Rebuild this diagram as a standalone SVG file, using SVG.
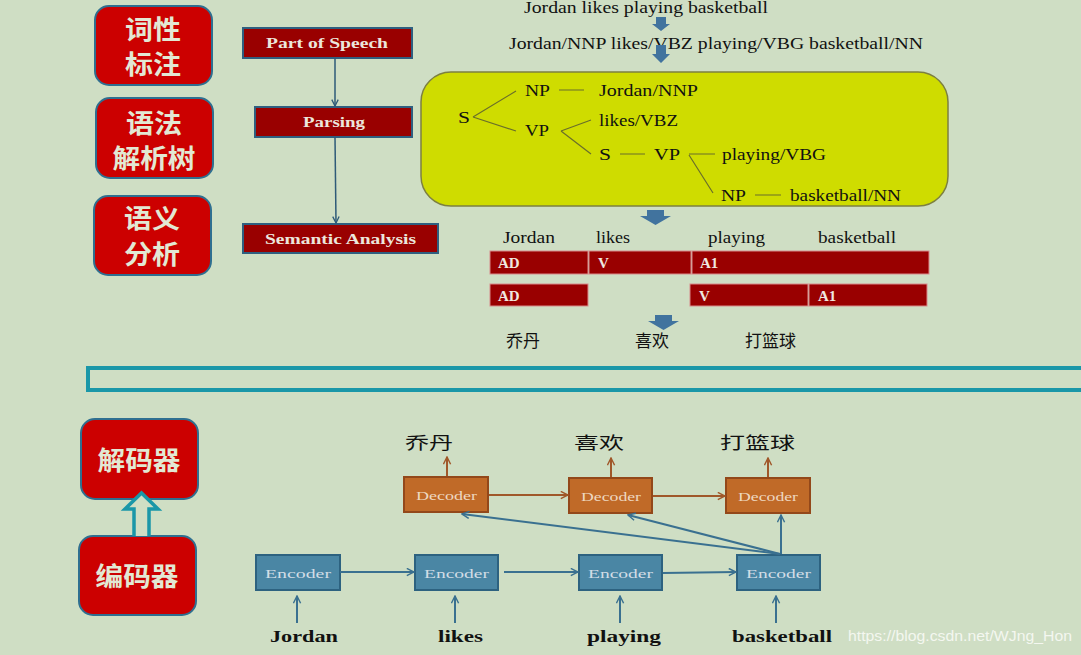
<svg xmlns="http://www.w3.org/2000/svg" width="1081" height="655" viewBox="0 0 1081 655">
<defs>
<style>
.bg{fill:#cfdec4}
.cn{font-family:"Noto Sans CJK SC",sans-serif;font-weight:bold;font-size:26px;fill:#e2e8d4;text-anchor:middle}
.redbox{fill:#cc0000;stroke:#2f6f90;stroke-width:2}
.step{fill:#990000;stroke:#2f5f80;stroke-width:2}
.steptx{font-family:"Liberation Serif",serif;font-weight:bold;font-size:15px;fill:#ece6dc}
.ser{font-family:"Liberation Serif",serif;font-size:16px;fill:#111}
.tline{stroke:#6a6e2a;stroke-width:1.2;fill:none}
.bar{fill:#990000;stroke:#d88a8a;stroke-width:1}
.bartx{font-family:"Liberation Serif",serif;font-weight:bold;font-size:15px;fill:#f0e8e0}
.zh{font-family:"Noto Sans CJK SC",sans-serif;font-size:17px;fill:#111}
.blk{fill:#41739e}
.enc{fill:#4a86a4;stroke:#2d6280;stroke-width:2}
.dec{fill:#c06a28;stroke:#93481a;stroke-width:2}
.boxtx{font-family:"Liberation Serif",serif;font-size:13px}
.in{font-family:"Liberation Serif",serif;font-weight:bold;font-size:17px;fill:#111}
.flow{stroke:#2e5a78;stroke-width:1.5;fill:none}
.blue{stroke:#3a7090;stroke-width:2;fill:none}
.brown{stroke:#a0582a;stroke-width:2;fill:none}
</style>
<marker id="ab" viewBox="0 0 10 10" refX="9" refY="5" markerWidth="9" markerHeight="9" markerUnits="userSpaceOnUse" orient="auto"><path d="M1 1L9 5L1 9" fill="none" stroke="#3a7090" stroke-width="1.6"/></marker>
<marker id="ar" viewBox="0 0 10 10" refX="9" refY="5" markerWidth="9" markerHeight="9" markerUnits="userSpaceOnUse" orient="auto"><path d="M1 1L9 5L1 9" fill="none" stroke="#a0582a" stroke-width="1.6"/></marker>
<marker id="af" viewBox="0 0 10 10" refX="9" refY="5" markerWidth="8" markerHeight="8" markerUnits="userSpaceOnUse" orient="auto"><path d="M1 1L9 5L1 9" fill="none" stroke="#2e5a78" stroke-width="1.6"/></marker>
</defs>
<rect class="bg" x="0" y="0" width="1081" height="655"/>

<!-- left category boxes -->
<g id="cat-pos"><rect class="redbox" x="95" y="6" width="117" height="79" rx="14"/><text class="cn" x="153" y="39" textLength="56" lengthAdjust="spacingAndGlyphs">词性</text><text class="cn" x="153" y="74" textLength="56" lengthAdjust="spacingAndGlyphs">标注</text></g>
<g id="cat-parse"><rect class="redbox" x="96" y="98" width="117" height="80" rx="14"/><text class="cn" x="154" y="133" textLength="56" lengthAdjust="spacingAndGlyphs">语法</text><text class="cn" x="154" y="168" textLength="83" lengthAdjust="spacingAndGlyphs">解析树</text></g>
<g id="cat-sem"><rect class="redbox" x="94" y="196" width="117" height="79" rx="14"/><text class="cn" x="152" y="228" textLength="56" lengthAdjust="spacingAndGlyphs">语义</text><text class="cn" x="152" y="264" textLength="56" lengthAdjust="spacingAndGlyphs">分析</text></g>

<!-- pipeline steps -->
<g id="step-pos"><rect class="step" x="243" y="28" width="169" height="30"/><text class="steptx" x="266" y="48" textLength="122" lengthAdjust="spacingAndGlyphs">Part of Speech</text></g>
<g id="step-parse"><rect class="step" x="255" y="107" width="157" height="30"/><text class="steptx" x="303" y="127" textLength="62" lengthAdjust="spacingAndGlyphs">Parsing</text></g>
<g id="step-sem"><rect class="step" x="243" y="224" width="195" height="29"/><text class="steptx" x="265" y="244" textLength="151" lengthAdjust="spacingAndGlyphs">Semantic Analysis</text></g>

<!-- top sentences -->
<g id="sentence"><text class="ser" x="524" y="13" textLength="244" lengthAdjust="spacingAndGlyphs">Jordan likes playing basketball</text></g>
<g id="tagged"><text class="ser" x="509" y="49" textLength="414" lengthAdjust="spacingAndGlyphs">Jordan/NNP likes/VBZ playing/VBG basketball/NN</text></g>

<!-- block arrows -->
<g id="block-arrows">
<path class="blk" d="M656 17H666V24H670L661 31L652 24H656Z"/>
<path class="blk" d="M656 45H666V54H670L661 63L652 54H656Z"/>
<path class="blk" d="M647 210H664V216H671L655.5 225L640 216H647Z"/>
<path class="blk" d="M655 315H672V321H679L663.5 330L648 321H655Z"/>
</g>

<!-- parse tree -->
<g id="parse-tree">
<rect x="421" y="72" width="527" height="134" rx="30" fill="#cfdc00" stroke="#7d8040" stroke-width="1.5"/>
<text class="ser" x="458" y="123" textLength="12" lengthAdjust="spacingAndGlyphs">S</text>
<text class="ser" x="525" y="96" textLength="25" lengthAdjust="spacingAndGlyphs">NP</text>
<text class="ser" x="599" y="96" textLength="99" lengthAdjust="spacingAndGlyphs">Jordan/NNP</text>
<text class="ser" x="525" y="136" textLength="24" lengthAdjust="spacingAndGlyphs">VP</text>
<text class="ser" x="599" y="126" textLength="79" lengthAdjust="spacingAndGlyphs">likes/VBZ</text>
<text class="ser" x="599" y="160" textLength="12" lengthAdjust="spacingAndGlyphs">S</text>
<text class="ser" x="654" y="160" textLength="26" lengthAdjust="spacingAndGlyphs">VP</text>
<text class="ser" x="722" y="160" textLength="104" lengthAdjust="spacingAndGlyphs">playing/VBG</text>
<text class="ser" x="721" y="201" textLength="25" lengthAdjust="spacingAndGlyphs">NP</text>
<text class="ser" x="790" y="201" textLength="111" lengthAdjust="spacingAndGlyphs">basketball/NN</text>
<path class="tline" d="M473 117L516 91M473 117L516 131M559 90H584M561 131L591 120M561 131L591 154M620 154H645M689 154H715M689 155L713 193M755 195H781"/>
</g>

<!-- semantic role rows -->
<g id="roles">
<text class="ser" x="503" y="243" textLength="52" lengthAdjust="spacingAndGlyphs">Jordan</text>
<text class="ser" x="596" y="243" textLength="34" lengthAdjust="spacingAndGlyphs">likes</text>
<text class="ser" x="708" y="243" textLength="57" lengthAdjust="spacingAndGlyphs">playing</text>
<text class="ser" x="818" y="243" textLength="78" lengthAdjust="spacingAndGlyphs">basketball</text>
<rect class="bar" x="490" y="251" width="98" height="23"/><text class="bartx" x="498" y="268">AD</text>
<rect class="bar" x="589" y="251" width="102" height="23"/><text class="bartx" x="598" y="268">V</text>
<rect class="bar" x="692" y="251" width="237" height="23"/><text class="bartx" x="700" y="268">A1</text>
<rect class="bar" x="490" y="284" width="98" height="22"/><text class="bartx" x="498" y="301">AD</text>
<rect class="bar" x="690" y="284" width="118" height="22"/><text class="bartx" x="699" y="301">V</text>
<rect class="bar" x="809" y="284" width="118" height="22"/><text class="bartx" x="818" y="301">A1</text>
<text class="zh" x="506" y="347">乔丹</text>
<text class="zh" x="635" y="347">喜欢</text>
<text class="zh" x="745" y="347">打篮球</text>
</g>

<!-- divider band -->
<rect x="88" y="368" width="1000" height="22" fill="none" stroke="#1a97a8" stroke-width="4"/>

<!-- encoder/decoder labels -->
<g id="lbl-dec"><rect class="redbox" x="81" y="419" width="117" height="80" rx="14"/><text class="cn" x="139" y="470" textLength="83" lengthAdjust="spacingAndGlyphs">解码器</text></g>
<g id="lbl-enc"><rect class="redbox" x="79" y="536" width="117" height="79" rx="14"/><text class="cn" x="137" y="586" textLength="83" lengthAdjust="spacingAndGlyphs">编码器</text></g>
<path d="M134 536V509H125L141.5 493L158 509H149V536" fill="#cfdec4" stroke="#1a97a8" stroke-width="3.5"/>

<!-- encoders -->
<g id="enc1"><rect class="enc" x="256" y="555" width="84" height="35"/><text class="boxtx" x="265" y="578" fill="#d2dde6" textLength="66" lengthAdjust="spacingAndGlyphs">Encoder</text></g>
<g id="enc2"><rect class="enc" x="415" y="555" width="83" height="35"/><text class="boxtx" x="424" y="578" fill="#d2dde6" textLength="65" lengthAdjust="spacingAndGlyphs">Encoder</text></g>
<g id="enc3"><rect class="enc" x="579" y="555" width="83" height="35"/><text class="boxtx" x="588" y="578" fill="#d2dde6" textLength="65" lengthAdjust="spacingAndGlyphs">Encoder</text></g>
<g id="enc4"><rect class="enc" x="737" y="555" width="83" height="35"/><text class="boxtx" x="746" y="578" fill="#d2dde6" textLength="65" lengthAdjust="spacingAndGlyphs">Encoder</text></g>

<!-- decoders -->
<g id="dec1"><rect class="dec" x="404" y="477" width="84" height="35"/><text class="boxtx" x="416" y="500" fill="#eed8c0" textLength="61" lengthAdjust="spacingAndGlyphs">Decoder</text></g>
<g id="dec2"><rect class="dec" x="569" y="478" width="83" height="35"/><text class="boxtx" x="581" y="501" fill="#eed8c0" textLength="60" lengthAdjust="spacingAndGlyphs">Decoder</text></g>
<g id="dec3"><rect class="dec" x="726" y="478" width="84" height="35"/><text class="boxtx" x="738" y="501" fill="#eed8c0" textLength="60" lengthAdjust="spacingAndGlyphs">Decoder</text></g>

<!-- input / output words -->
<g id="words">
<text class="in" x="270" y="642" textLength="68" lengthAdjust="spacingAndGlyphs">Jordan</text>
<text class="in" x="438" y="642" textLength="45" lengthAdjust="spacingAndGlyphs">likes</text>
<text class="in" x="587" y="642" textLength="74" lengthAdjust="spacingAndGlyphs">playing</text>
<text class="in" x="732" y="642" textLength="100" lengthAdjust="spacingAndGlyphs">basketball</text>
<text class="zh" x="405" y="449" font-size="19" textLength="48" lengthAdjust="spacingAndGlyphs">乔丹</text>
<text class="zh" x="574" y="449" font-size="19" textLength="50" lengthAdjust="spacingAndGlyphs">喜欢</text>
<text class="zh" x="720" y="449" font-size="19" textLength="75" lengthAdjust="spacingAndGlyphs">打篮球</text>
</g>

<!-- connectors -->
<g id="connectors">
<line class="flow" x1="335" y1="58" x2="335" y2="106" marker-end="url(#af)"/>
<line class="flow" x1="335" y1="137" x2="336" y2="223" marker-end="url(#af)"/>
<line class="blue" x1="340" y1="572" x2="414" y2="572" marker-end="url(#ab)"/>
<line class="blue" x1="504" y1="572" x2="578" y2="572" marker-end="url(#ab)"/>
<line class="blue" x1="663" y1="573" x2="736" y2="572" marker-end="url(#ab)"/>
<line class="blue" x1="297" y1="623" x2="297" y2="596" marker-end="url(#ab)"/>
<line class="blue" x1="455" y1="623" x2="455" y2="596" marker-end="url(#ab)"/>
<line class="blue" x1="620" y1="623" x2="620" y2="596" marker-end="url(#ab)"/>
<line class="blue" x1="776" y1="623" x2="776" y2="596" marker-end="url(#ab)"/>
<line class="blue" x1="781" y1="554" x2="781" y2="515" marker-end="url(#ab)"/>
<line class="blue" x1="780" y1="554" x2="628" y2="515" marker-end="url(#ab)"/>
<line class="blue" x1="780" y1="554" x2="462" y2="514" marker-end="url(#ab)"/>
<line class="brown" x1="489" y1="495" x2="568" y2="495" marker-end="url(#ar)"/>
<line class="brown" x1="653" y1="496" x2="725" y2="496" marker-end="url(#ar)"/>
<line class="brown" x1="447" y1="476" x2="447" y2="457" marker-end="url(#ar)"/>
<line class="brown" x1="611" y1="477" x2="611" y2="458" marker-end="url(#ar)"/>
<line class="brown" x1="768" y1="477" x2="768" y2="458" marker-end="url(#ar)"/>
</g>

<text x="848" y="641" font-family="Liberation Sans, sans-serif" font-size="15" fill="#f4f7f0" textLength="224" lengthAdjust="spacingAndGlyphs">https://blog.csdn.net/WJng_Hon</text>
</svg>
